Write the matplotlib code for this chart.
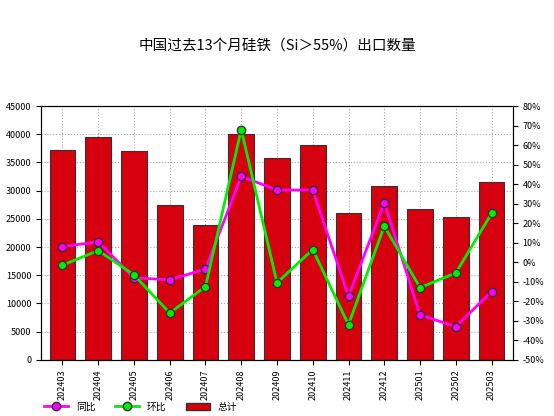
import matplotlib
matplotlib.use("Agg")
import matplotlib.pyplot as plt
from matplotlib.lines import Line2D
from matplotlib.patches import Patch

plt.rcParams['font.family'] = ['Noto Sans CJK SC', 'DejaVu Sans']

months = ["202403","202404","202405","202406","202407","202408","202409","202410","202411","202412","202501","202502","202503"]
total = [37300, 39500, 37100, 27500, 24000, 40100, 35800, 38100, 26000, 30800, 26800, 25300, 31500]
yoy = [8, 10.5, -8, -9, -3.5, 44, 37, 37, -17.5, 30.5, -27, -33, -15]
mom = [-1.5, 6, -6.5, -26, -12.5, 68, -10.5, 6.5, -32, 18.5, -13, -5.5, 25]

fig = plt.figure(figsize=(5.54, 4.16), dpi=100)
ax = fig.add_axes([0.074, 0.135, 0.852, 0.61])
x = range(len(months))
ax.bar(x, total, width=0.72, color='#d7000f', edgecolor='#333333', linewidth=0.8, zorder=2)
ax.set_ylim(0, 45000)
ax.set_yticks(range(0, 45001, 5000))
ax.set_xlim(-0.6, len(months) - 0.4)
ax.set_xticks(list(x))
ax.set_xticklabels(months, rotation=90)
ax.tick_params(labelsize=6.5)
ax.grid(True, color='#aaaaaa', linestyle=':', linewidth=0.8, zorder=0)
ax.set_axisbelow(True)

ax2 = ax.twinx()
ax2.set_ylim(-50, 80)
ax2.set_yticks(range(-50, 81, 10))
ax2.set_yticklabels([f"{v}%" for v in range(-50, 81, 10)])
ax2.tick_params(labelsize=6.5)
ax2.plot(x, yoy, color='#ff00ff', linewidth=2, marker='o', markersize=6,
         markerfacecolor='#ff00ff', markeredgecolor='#333333', zorder=3)
ax2.plot(x, mom, color='#00ee00', linewidth=2, marker='o', markersize=6,
         markerfacecolor='#00ee00', markeredgecolor='#333333', zorder=4)

fig.text(0.5, 0.89, "中国过去13个月硅铁（Si＞55%）出口数量", ha='center', va='center', fontsize=10.5)

handles = [
    Line2D([], [], color='#ff00ff', lw=2, marker='o', markersize=6, markerfacecolor='#ff00ff', markeredgecolor='#333333'),
    Line2D([], [], color='#00ee00', lw=2, marker='o', markersize=6, markerfacecolor='#00ee00', markeredgecolor='#333333'),
    Patch(facecolor='#d7000f', edgecolor='#333333'),
]
fig.legend(handles, ["同比", "环比", "总计"], loc='center left', bbox_to_anchor=(0.07, 0.022),
           ncol=3, frameon=False, fontsize=7, handlelength=2.5, columnspacing=2,
           borderpad=0, handleheight=0.8)
fig.savefig("out.png", dpi=100)
